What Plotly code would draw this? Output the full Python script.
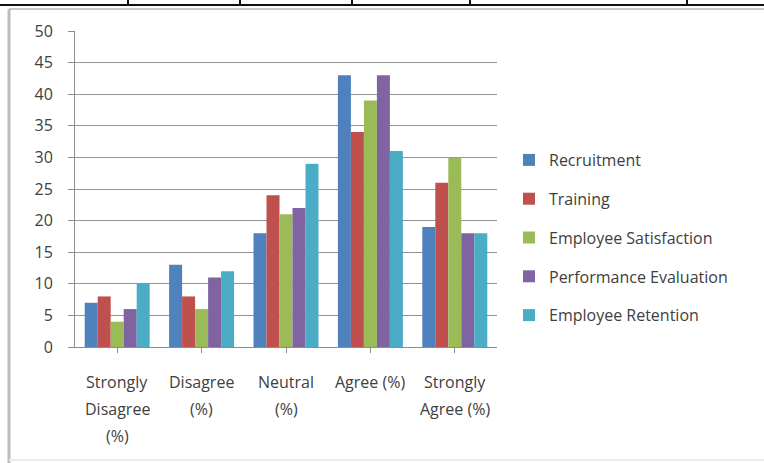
import plotly.graph_objects as go

# Survey response shares per HR area
categories = ["Strongly\nDisagree\n(%)", "Disagree\n(%)", "Neutral\n(%)", "Agree (%)", "Strongly\nAgree (%)"]
series_names = ["Recruitment", "Training", "Employee Satisfaction", "Performance Evaluation", "Employee Retention"]
recruitment = [7, 13, 18, 43, 19]
training = [8, 8, 24, 34, 26]
satisfaction = [4, 6, 21, 39, 30]
evaluation = [6, 11, 22, 43, 18]
retention = [10, 12, 29, 31, 18]
y_ticks = [0, 5, 10, 15, 20, 25, 30, 35, 40, 45, 50]

series_values = [recruitment, training, satisfaction, evaluation, retention]
colors = ["#4F81BD", "#C0504D", "#9BBB59", "#8064A2", "#4BACC6"]

W, H = 764, 463
L, R, T, B = 75, 267, 31, 116
PW, PH = W - L - R, H - T - B

def px_x(p):
    return (p - L) / PW

def px_y(p):
    return (H - B - p) / PH

FONT = "Open Sans"
TXT = "#404040"

fig = go.Figure()
for i, (name, vals) in enumerate(zip(series_names, series_values)):
    fig.add_trace(go.Bar(
        x=list(range(len(categories))), y=vals, name=name,
        marker=dict(color=colors[i], line=dict(width=0)),
        legendgroup=name,
    ))

# multi-line category labels under the axis
annotations = []
for i, lab in enumerate(categories):
    for j, line in enumerate(lab.split("\n")):
        annotations.append(dict(
            x=i, y=0, xref="x", yref="y", text=line, showarrow=False,
            yshift=-35 - 27 * j, font=dict(family=FONT, size=16, color=TXT),
            xanchor="center", yanchor="middle",
        ))

shapes = [
    # page table rule above the chart
    dict(type="line", xref="paper", yref="paper", x0=px_x(0), x1=px_x(764),
         y0=px_y(5), y1=px_y(5), line=dict(color="#111111", width=2)),
    # outer chart frame
    dict(type="line", xref="paper", yref="paper", x0=px_x(9), x1=px_x(764),
         y0=px_y(9), y1=px_y(9), line=dict(color="#c8c8c8", width=2)),
    dict(type="line", xref="paper", yref="paper", x0=px_x(9), x1=px_x(9),
         y0=px_y(9), y1=px_y(463), line=dict(color="#bdbdbd", width=3)),
    dict(type="line", xref="paper", yref="paper", x0=px_x(9), x1=px_x(764),
         y0=px_y(460), y1=px_y(460), line=dict(color="#ececec", width=2)),
]
for xp in [128, 240, 352, 470, 687]:
    shapes.append(dict(type="line", xref="paper", yref="paper", x0=px_x(xp), x1=px_x(xp),
                       y0=px_y(0), y1=px_y(5), line=dict(color="#111111", width=2)))

fig.update_layout(
    width=W, height=H,
    margin=dict(l=L, r=R, t=T, b=B),
    paper_bgcolor="white", plot_bgcolor="white",
    barmode="group", bargap=0.23, bargroupgap=0,
    font=dict(family=FONT, size=16, color=TXT),
    showlegend=True,
    legend=dict(x=px_x(509), y=px_y(143), xanchor="left", yanchor="top",
                font=dict(family=FONT, size=16, color=TXT),
                tracegroupgap=15, itemwidth=30, bgcolor="rgba(0,0,0,0)"),
    xaxis=dict(range=[-0.5, 4.5], tickvals=list(range(len(categories))), showticklabels=False,
               showline=True, linecolor="#8c8c8c", linewidth=1,
               ticks="outside", tickson="boundaries", ticklen=5, tickcolor="#8c8c8c",
               showgrid=False, zeroline=False),
    yaxis=dict(range=[0, 50], tickvals=y_ticks, showline=True, linecolor="#8c8c8c", linewidth=1,
               ticks="outside", ticklen=6, tickcolor="#8c8c8c",
               showgrid=True, gridcolor="#939393", gridwidth=1, zeroline=False,
               tickfont=dict(family=FONT, size=16, color=TXT), ticklabelstandoff=12),
    annotations=annotations,
    shapes=shapes,
)

fig.write_html("out.html")
